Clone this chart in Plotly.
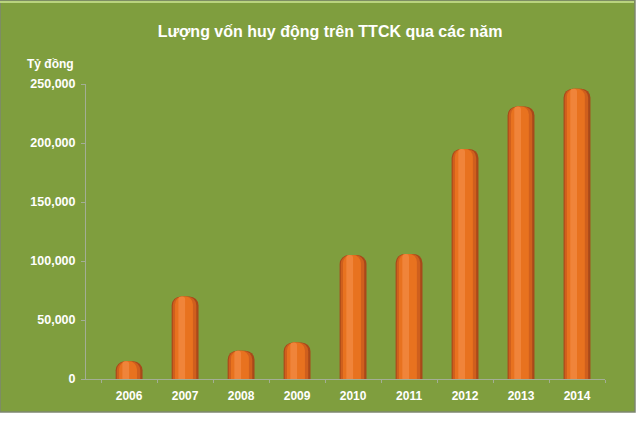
"""
Lượng vốn huy động trên TTCK qua các năm - cylinder-style bar chart
"""

import plotly.graph_objects as go

# ==========================================
# Data (tỷ đồng)
# ==========================================
years = ["2006", "2007", "2008", "2009", "2010", "2011", "2012", "2013", "2014"]
capital = [15000, 70000, 24000, 31000, 105000, 106000, 195000, 231000, 246000]
y_ticks = [0, 50000, 100000, 150000, 200000, 250000]

title_text = "Lượng vốn huy động trên TTCK qua các năm"
unit_text = "Tỷ đồng"

# colours
bg_green = "rgb(127,158,62)"
axis_grey = "#A3AE95"
# (colour, bar width, offset) layers -> shaded cylinder look
shades = [
    ("#A8481A", 0.48, -0.24),
    ("#CF5F1D", 0.42, -0.22),
    ("#E8721F", 0.32, -0.18),
    ("#F0843A", 0.12, -0.12),
]

# plot area in pixels (640x421 page)
L, R, T, B = 86, 35, 84, 42
W, H = 640 - L - R, 421 - T - B

fig = go.Figure()

for color, width, offset in shades:
    fig.add_trace(
        go.Bar(
            x=years,
            y=capital,
            width=width,
            offset=offset,
            marker=dict(color=color, line=dict(width=0), cornerradius=9),
            hoverinfo="skip",
            showlegend=False,
        )
    )

fig.update_layout(
    width=640,
    height=421,
    barmode="overlay",
    paper_bgcolor="white",
    plot_bgcolor="rgba(0,0,0,0)",
    margin=dict(l=L, r=R, t=T, b=B),
    font=dict(family="Liberation Sans, Arial, sans-serif", color="white"),
    title=dict(
        text=title_text,
        x=330 / 640,
        xref="container",
        xanchor="center",
        y=1 - 31 / 421,
        yanchor="middle",
        font=dict(size=16, color="white", weight="bold"),
    ),
)

fig.update_xaxes(
    type="category",
    range=[-0.77, 8.5],
    showline=True,
    linecolor=axis_grey,
    linewidth=1,
    ticks="outside",
    tickson="boundaries",
    ticklen=3,
    tickcolor=axis_grey,
    ticklabelstandoff=6,
    showgrid=False,
    tickfont=dict(size=12, color="white", weight="bold"),
    fixedrange=True,
)
fig.update_yaxes(
    range=[0, 250000],
    tickvals=y_ticks,
    tickformat=",",
    showline=True,
    linecolor=axis_grey,
    linewidth=1,
    ticks="outside",
    ticklen=4,
    tickcolor=axis_grey,
    ticklabelstandoff=3,
    showgrid=False,
    zeroline=False,
    tickfont=dict(size=12.5, color="white", weight="bold"),
    fixedrange=True,
)

# green panel with its thin frame
fig.add_shape(
    type="rect",
    xref="paper",
    yref="paper",
    x0=-L / W,
    x1=(635 - L) / W,
    y0=-(412 - (T + H)) / H,
    y1=(T + H) / H,
    fillcolor=bg_green,
    line=dict(color="#7D8670", width=1.5),
    layer="below",
)
# light top edge
fig.add_shape(
    type="line",
    xref="paper",
    yref="paper",
    x0=-L / W,
    x1=(634 - L) / W,
    y0=(T + H - 2) / H,
    y1=(T + H - 2) / H,
    line=dict(color="#B9D37E", width=2),
    layer="below",
)

fig.add_annotation(
    text=unit_text,
    xref="paper",
    yref="paper",
    x=(50 - L) / W,
    y=(T + H - 64) / H,
    xanchor="center",
    yanchor="middle",
    showarrow=False,
    font=dict(size=12, color="white", weight="bold"),
)

# drop the browser's default body margin so the figure sits at (0, 0)
fig.write_html(
    "out.html",
    config={"displayModeBar": False},
    post_script="document.body.style.margin='0';",
)
